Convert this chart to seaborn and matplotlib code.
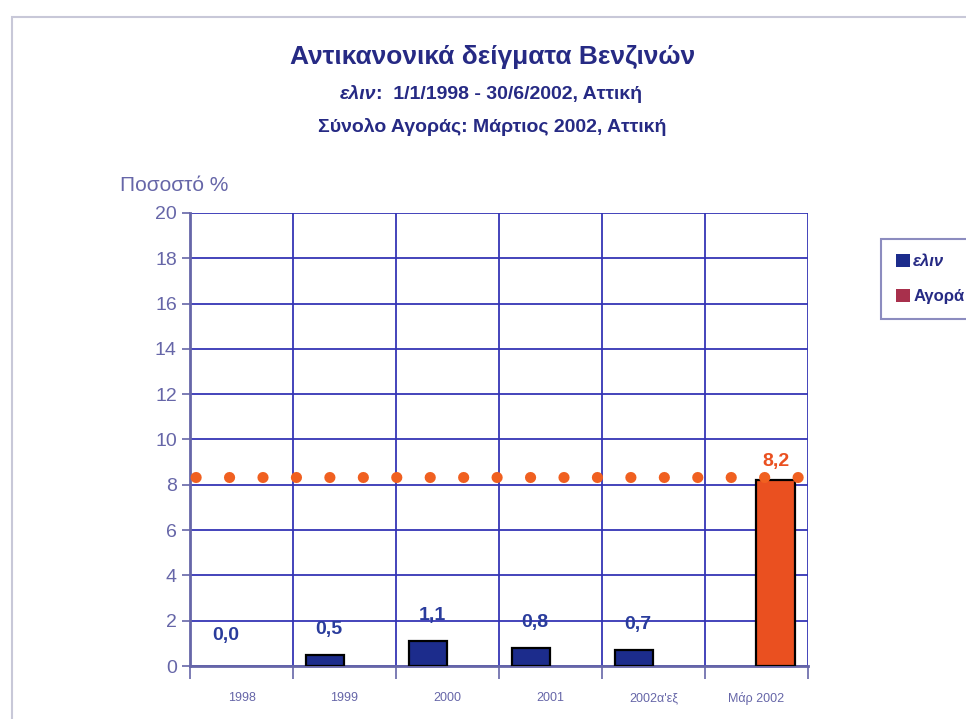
import matplotlib
matplotlib.use('Agg')
import pandas as pd
import matplotlib.pyplot as plt
import seaborn as sns
from matplotlib.patches import Patch, Rectangle

# data
categories = ['1998', '1999', '2000', '2001', '2002α\'εξ', 'Μάρ 2002']
elin_vals = [0.0, 0.5, 1.1, 0.8, 0.7, None]
market_vals = [None, None, None, None, None, 8.2]
market_level = 8.35
series_names = ['ελιν', 'Αγορά']

df = pd.DataFrame({
    'cat': categories * 2,
    'val': elin_vals + market_vals,
    'series': [series_names[0]] * 6 + [series_names[1]] * 6,
})

sns.set_style('white')
plt.rcParams['font.family'] = ['Liberation Sans', 'DejaVu Sans']

navy = '#1c2c8c'
orange = '#ea5020'
txtc = '#6666a8'
gridc = '#3535b5'
titc = '#262a84'

fig = plt.figure(figsize=(9.66, 7.19), dpi=100)
ax = fig.add_axes([0.1967, 0.0737, 0.6397, 0.6301])

sns.barplot(data=df, x='cat', y='val', hue='series', order=categories,
            hue_order=series_names, palette=[navy, orange], width=0.74, saturation=1,
            edgecolor='black', linewidth=1.6, dodge=True, ax=ax, legend=False, zorder=3)
# zero-height bar is invisible in the original
for p in ax.patches:
    if p.get_height() == 0:
        p.set_visible(False)

ax.set_ylim(0, 20)
ax.set_xlim(-0.5, 5.5)
ax.set_yticks(range(0, 21, 2))
ax.set_xticks(range(6))
ax.set_xticklabels(categories, fontsize=9, color=txtc)
ax.set_xticks([i - 0.5 for i in range(7)], minor=True)
ax.tick_params(axis='y', labelsize=14, colors=txtc, length=6, width=1.2, direction='out', left=True)
ax.tick_params(axis='x', which='major', length=0, pad=19)
ax.tick_params(axis='x', which='minor', length=9, width=1.2, color=txtc, bottom=True, direction='out')
ax.set_xlabel('')
ax.set_ylabel('')
ax.yaxis.grid(True, color=gridc, lw=1.3, zorder=1)
ax.xaxis.grid(True, which='minor', color=gridc, lw=1.3, zorder=1)
ax.set_axisbelow(True)
for s in ['top', 'right']:
    ax.spines[s].set_visible(False)
ax.spines['left'].set_color(txtc)
ax.spines['left'].set_linewidth(2)
ax.spines['bottom'].set_color(txtc)
ax.spines['bottom'].set_linewidth(2)

# market level dotted line
ax.axhline(market_level, color='#f06020', lw=8, ls=(-0.5, (0.01, 3.0)),
           dash_capstyle='round', zorder=4)

# value labels
for i, v in enumerate(elin_vals):
    if v is not None:
        ax.text(i - 0.15, v + 0.75 if v > 0 else 0.95, f'{v:.1f}'.replace('.', ','),
                ha='center', va='bottom', fontsize=14, fontweight='bold', color='#2a3c9c', zorder=5)
for i, v in enumerate(market_vals):
    if v is not None:
        ax.text(i + 0.19, v + 0.45, f'{v:.1f}'.replace('.', ','),
                ha='center', va='bottom', fontsize=14, fontweight='bold', color=orange, zorder=5)

fig.text(0.124, 0.742, 'Ποσοστό %', fontsize=15, color=txtc, ha='left', va='center')

# titles
fig.text(0.51, 0.921, 'Αντικανονικά δείγματα Βενζινών', fontsize=19, fontweight='bold',
         color=titc, ha='center', va='center')
fig.text(0.389, 0.868, 'ελιν', fontsize=14, fontweight='bold', style='italic',
         color=titc, ha='right', va='center')
fig.text(0.389, 0.868, ':  1/1/1998 - 30/6/2002, Αττική', fontsize=14, fontweight='bold',
         color=titc, ha='left', va='center')
fig.text(0.51, 0.823, 'Σύνολο Αγοράς: Μάρτιος 2002, Αττική', fontsize=14, fontweight='bold',
         color=titc, ha='center', va='center')

# legend (partly outside the figure like the reference)
handles = [Patch(facecolor=navy, edgecolor='none'), Patch(facecolor='#a8304c', edgecolor='none')]
leg = fig.legend(handles, series_names, loc='upper left', bbox_to_anchor=(0.909, 0.672),
                 frameon=True, fontsize=12, handlelength=0.8, handleheight=0.8,
                 handletextpad=0.2, labelspacing=1.2, borderpad=0.6)
leg.get_frame().set_edgecolor('#7070b0')
leg.get_frame().set_linewidth(1.5)
leg.get_frame().set_boxstyle('square')
for t in leg.get_texts():
    t.set_color(titc)
    t.set_fontweight('bold')
leg.get_texts()[0].set_style('italic')

# faint outer frame
fig.patches.append(Rectangle((0.012, -0.05), 1.2, 1.026, transform=fig.transFigure,
                             fill=False, edgecolor='#c8c8d8', lw=1.5))

fig.savefig('out.png', dpi=100)
